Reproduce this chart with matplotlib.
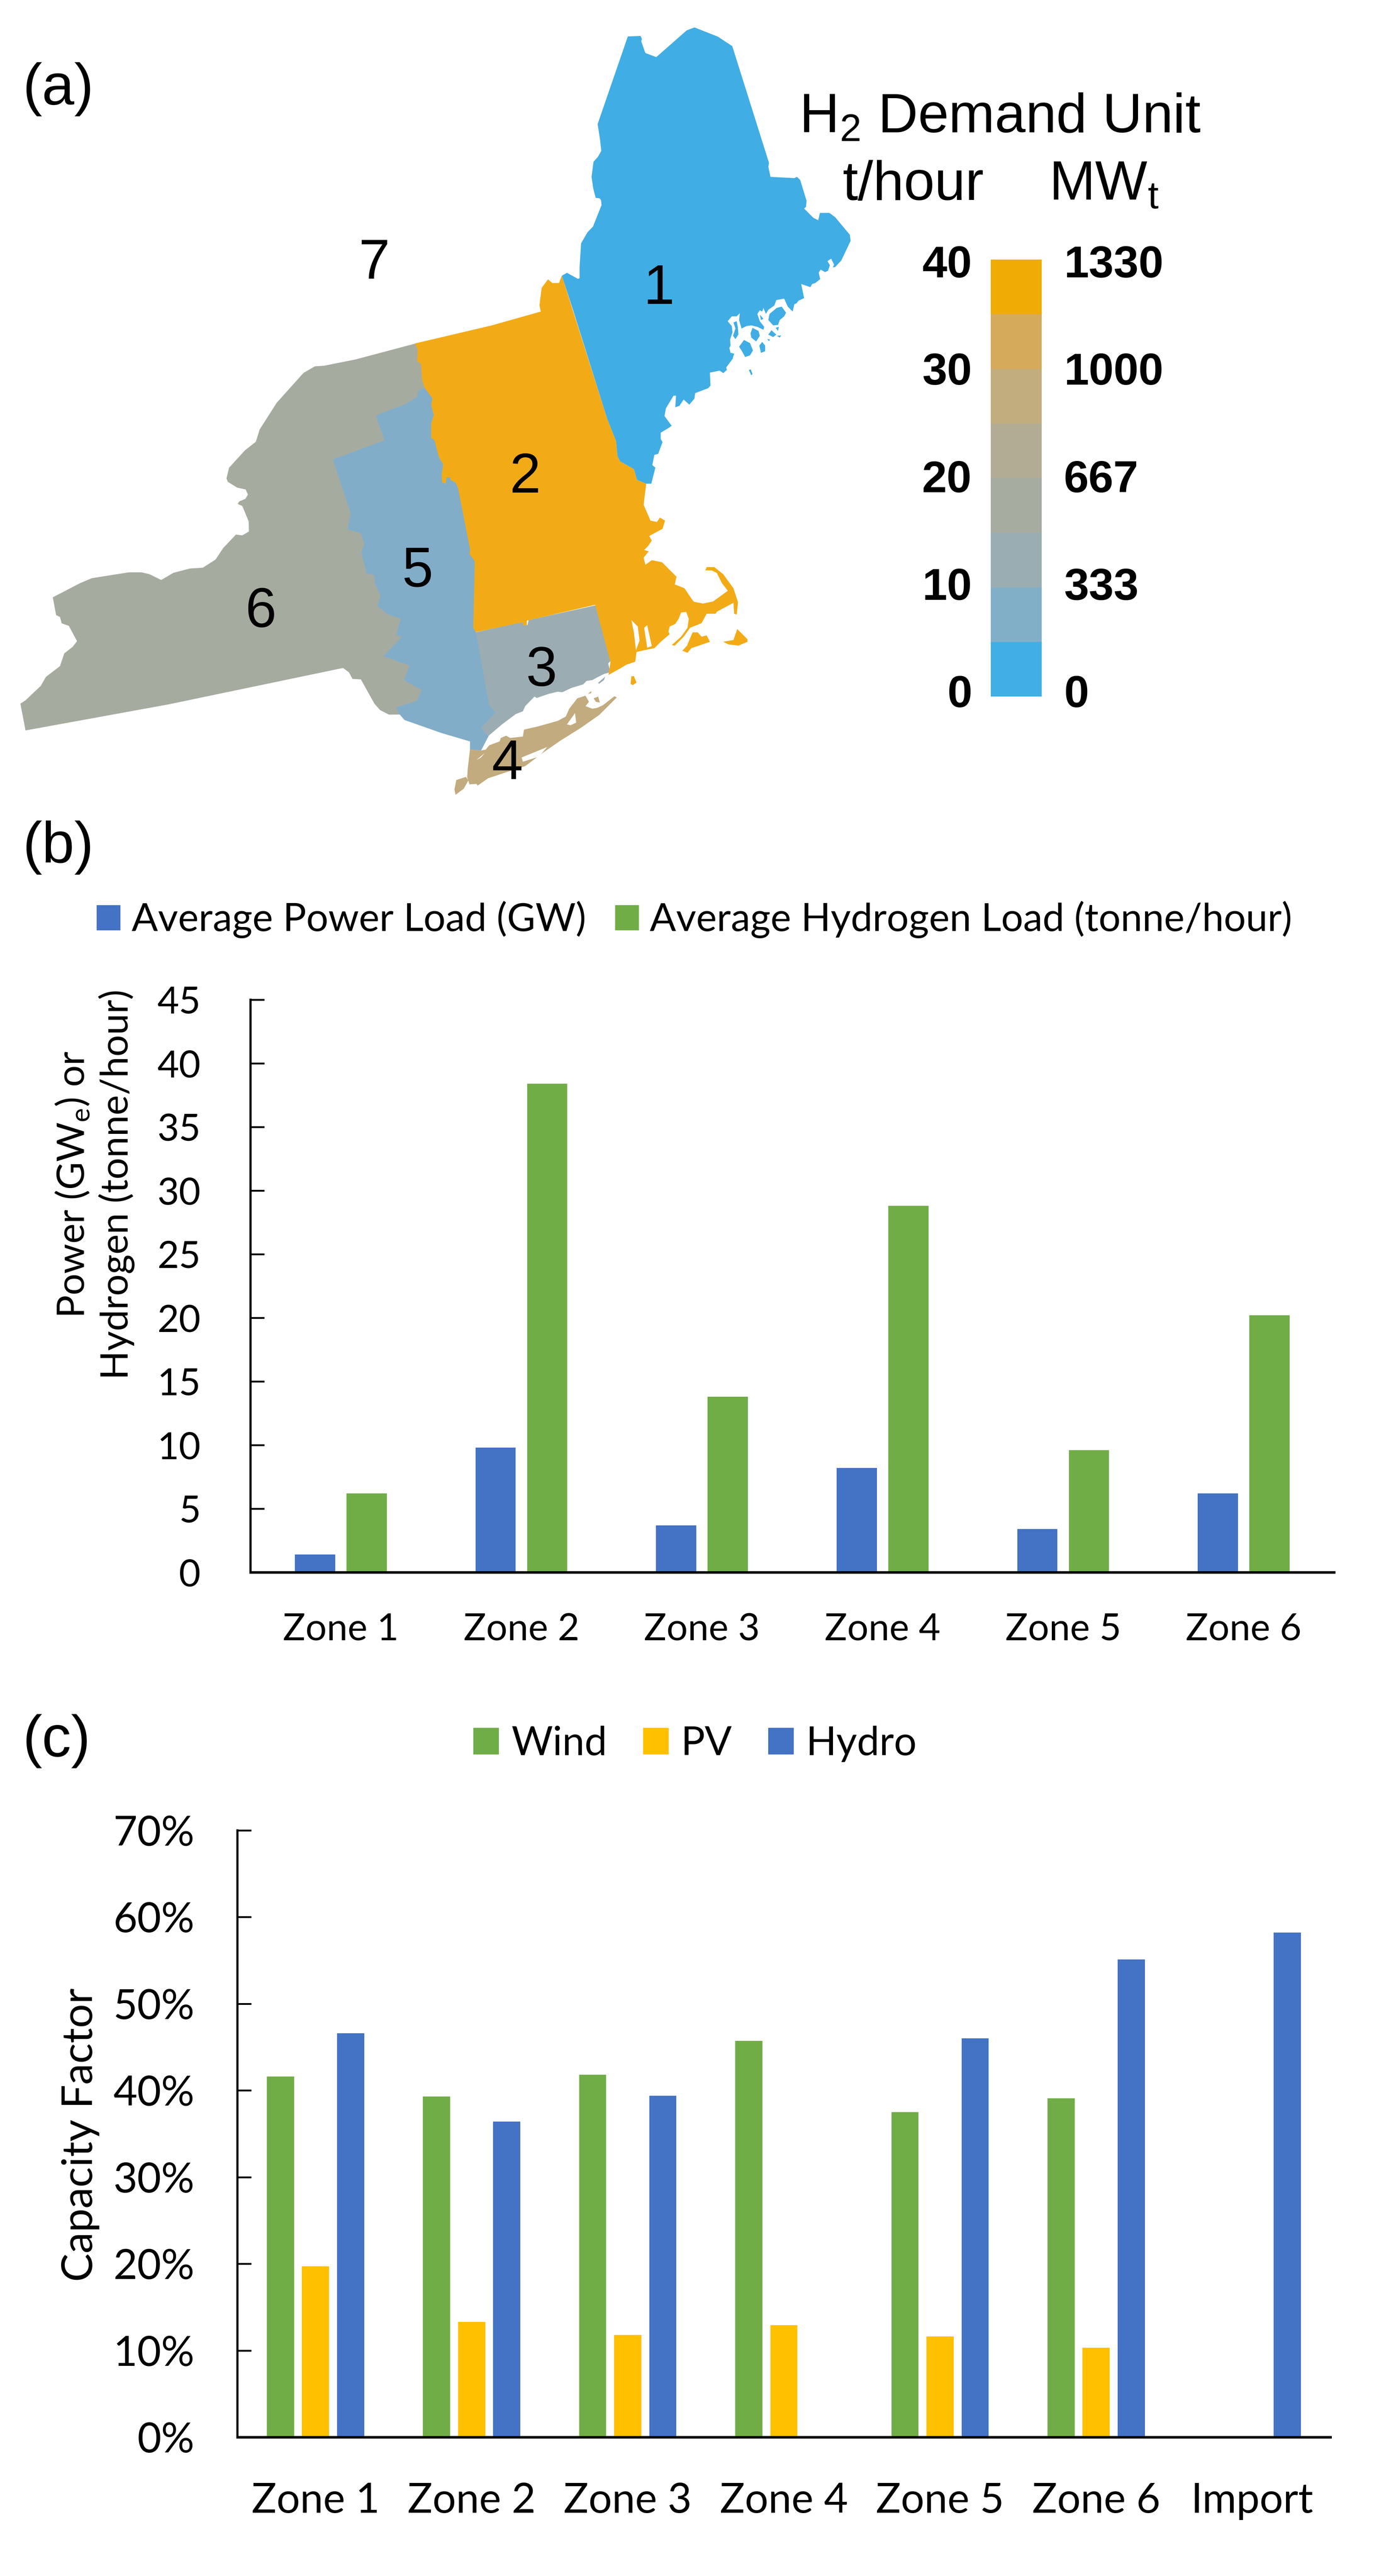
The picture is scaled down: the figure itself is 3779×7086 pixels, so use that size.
import numpy as np
import matplotlib
matplotlib.use('Agg')
import matplotlib.pyplot as plt
from matplotlib.patches import Patch

plt.rcParams['mathtext.default'] = 'regular'

W, H = 3780, 7086

# panel (b)
zones_b = ['Zone 1', 'Zone 2', 'Zone 3', 'Zone 4', 'Zone 5', 'Zone 6']
power_load = [1.4, 9.8, 3.7, 8.2, 3.4, 6.2]
hydrogen_load = [6.2, 38.4, 13.8, 28.8, 9.6, 20.2]

# panel (c)
zones_c = ['Zone 1', 'Zone 2', 'Zone 3', 'Zone 4', 'Zone 5', 'Zone 6', 'Import']
cf_wind = [41.6, 39.3, 41.8, 45.7, 37.5, 39.1, 0]
cf_pv = [19.7, 13.3, 11.8, 12.9, 11.6, 10.3, 0]
cf_hydro = [46.6, 36.4, 39.4, 0, 46.0, 55.1, 58.2]

# colour scale of the map
scale_tons = ['40', '30', '20', '10', '0']
scale_mw = ['1330', '1000', '667', '333', '0']
scale_colors = ['#41AFE6', '#82AFC8', '#9AADB3', '#A6ACA0',
                '#B3AC95', '#C2AD7E', '#D6AA5B', '#F0AB05']

ZONE_COLORS = {1: '#41ADE5', 2: '#F2AB17', 3: '#9BADB3', 4: '#C2AB7E',
               5: '#82ADC8', 6: '#A6ABA0'}


def z5(*p):
    return [(1400 + x * 0.6696, 50 + y * 0.6696) for x, y in p]

def z6(*p):
    return [(1000 + x * 0.7015, 850 + y * 0.7015) for x, y in p]

def z7(*p):
    return [(x * 0.7015, 950 + y * 0.7015) for x, y in p]

def z8(*p):
    return [(1100 + x * 0.6378, 1500 + y * 0.4783) for x, y in p]


zone1 = z5((217,1058),(238,1046),(283,1071),(290,1068),(290,1020),(296,925),(322,880),(345,856),
           (380,768),(378,748),(372,740),(356,738),(346,700),(339,652),(347,590),(365,570),(379,545),
           (374,500),(364,435),(488,75),(540,73),(546,85),(543,95),(560,143),(605,160),(730,50),
           (762,38),(858,76),(917,115),(1068,595),(1065,610),(1074,652),(1172,657),(1183,652),
           (1196,665),(1222,750),(1220,775),(1212,782),(1250,820),(1270,830),(1277,800),(1316,800),
           (1340,818),(1400,890),(1403,915),(1365,995),(1340,1022),(1330,1024),(1335,1012),(1323,988),
           (1308,998),(1318,1015),(1310,1038),(1298,1043),(1280,1033),(1272,1045),(1278,1072),
           (1258,1088),(1245,1092),(1238,1105),(1200,1092),(1212,1150),(1190,1160),(1180,1172),
           (1172,1175),(1165,1205),(1145,1185),(1130,1152),(1098,1158),(1090,1180),(1065,1198),
           (1055,1215),(1045,1190),(1040,1205),(1030,1200),(1020,1215),(1030,1245),(1048,1268),
           (1045,1280),(1020,1268),(995,1262),(975,1265),(955,1275),(945,1240),(948,1212),(935,1225),
           (915,1225),(898,1245),(915,1265),(918,1290),(908,1320),(910,1345),(905,1355),(910,1375),
           (925,1378),(918,1400),(892,1435),(895,1445),(880,1458),(865,1448),(825,1456)) + \
    z6((1360,300),(1352,310),(1300,330),(1297,352),(1277,375),(1255,355),(1238,380),(1222,385),
       (1225,340),(1215,340),(1185,390),(1180,420),(1208,458),(1198,465),(1165,485),(1165,510),
       (1172,522),(1155,568),(1140,572),(1132,612),(1144,622),(1128,685),(1108,685),(1072,670),
       (1060,628),(1005,597),(995,575),(990,518),(955,430),(820,0))

zone1_islands = [
    z5((1070,1215),(1100,1190),(1120,1185),(1138,1210),(1130,1225),(1112,1240),(1105,1260),(1085,1262),(1065,1240)),
    z5((922,1250),(935,1245),(940,1270),(942,1300),(930,1318),(920,1305),(930,1275)),
    z5((1000,1272),(1025,1285),(1030,1305),(1015,1328),(995,1312),(992,1295)),
    z5((945,1350),(965,1322),(990,1335),(1002,1365),(990,1385),(970,1392),(955,1365)),
    z5((1028,1345),(1040,1330),(1052,1345),(1052,1368),(1035,1375)),
    z5((1065,1300),(1078,1282),(1098,1300),(1085,1310)),
    z5((985,1445),(993,1443),(1000,1462),(995,1467)),
    z5((1095,1272),(1108,1268),(1105,1285)),
    z5((1100,1305),(1118,1303),(1112,1312)),
    z5((1060,1318),(1072,1320),(1068,1327)),
    z5((1030,1218),(1045,1235),(1035,1240)),
]

zone2 = z6((202,135),(500,65),(695,10)) + \
    z5((125,1180),(134,1108),(160,1073),(178,1088),(205,1088),(217,1058)) + \
    z6((955,430),(990,518),(995,575),(1005,597),(1060,628),(1072,670),(1108,685),(1098,768),
       (1125,830),(1150,835),(1162,818),(1182,830),(1172,862),(1120,890),(1130,908),(1115,930),
       (1100,945),(1118,950),(1098,975),(1105,1003),(1130,985),(1170,993),(1227,1050),(1220,1080),
       (1258,1095),(1285,1135),(1295,1148),(1330,1155),(1370,1147),(1428,1105),(1405,1075),
       (1385,1035),(1365,1025),(1340,1025),(1345,1012),(1375,1012),(1410,1040),(1450,1095),
       (1468,1150),(1463,1198),(1453,1195),(1450,1152),(1385,1187),(1380,1195),(1345,1195),
       (1325,1232),(1280,1250),(1255,1285),(1220,1320),(1208,1318),(1245,1285),(1270,1250),
       (1275,1215),(1265,1188),(1245,1190),(1235,1215),(1222,1235),(1200,1245),(1195,1265),
       (1200,1275),(1165,1305),(1140,1330),(1100,1338),(1070,1345),(1065,1383),(1030,1395),
       (1005,1410),(960,1435),
       (968,1385),(908,1160),(640,1222),(640,1240),(625,1240),(625,1228),(440,1267),(430,1250),
       (436,990),(415,960),(418,945),(370,700),(360,680),(340,670),(340,660),(325,660),(322,685),
       (308,680),(306,650),(312,610),(295,580),(278,515),(265,505),(265,450),(275,415),(265,375),
       (270,350),(240,310),(230,280),(225,215),(210,205),(212,160))

zone2_islands = [
    z6((1250,1340),(1268,1320),(1290,1268),(1310,1268),(1325,1285),(1345,1280),(1358,1305),(1285,1330),(1270,1348)),
    z6((1410,1305),(1450,1298),(1465,1255),(1505,1295),(1505,1305),(1470,1320),(1430,1315)),
    z6((1050,1440),(1060,1440),(1070,1465),(1055,1475),(1047,1470)),
]
bay_gaps = [
    z6((1050,1220),(1075,1245),(1082,1300),(1068,1338),(1060,1270)),
    z6((1100,1250),(1112,1240),(1130,1322),(1112,1328)),
]

zone3 = z8((328,500),(530,440),(535,460),(550,458),(555,430),(845,345),(908,665),(898,680),(907,730),
           (880,740),(850,760),(830,775),(805,780),(790,800),(740,820),(700,845),(680,842),(640,855),
           (590,878),(580,870),(540,925),(530,955),(500,970),(440,1030),(380,1098),(350,1050),
           (412,962),(385,920),(372,830))
zone3_islet = z8((855,790),(885,755),(880,775),(858,797))

zone4 = z8((302,1175),(350,1180),(370,1175),(385,1150),(430,1128),(435,1108),(458,1095),(475,1108),
           (530,1100),(535,1060),(600,1040),(680,1010),(715,985),(730,940),(765,880),(800,865),
           (815,900),(800,925),(830,940),(850,935),(875,920),(925,868),(935,875),(860,975),(780,1050),
           (690,1125),(620,1190),(540,1270),(470,1300),(380,1340),(335,1382),(330,1372),(300,1375),
           (290,1335),(292,1290))
zone4_islands = [
    z8((243,1350),(285,1332),(295,1352),(275,1400),(240,1435),(235,1405)),
    z8((835,880),(855,870),(862,905),(845,900)),
    z8((810,855),(825,838),(825,850)),
]
zone4_gaps = [
    z8((720,1030),(755,965),(760,1020),(735,1035)),
    z8((525,1220),(635,1160),(600,1215),(530,1245)),
    z8((330,1235),(365,1195),(350,1220)),
]

zone5 = z6((240,308),(215,320),(210,345),(160,375),(105,395),(48,418),(82,515)) + \
    z7((1305,447),(1375,660),(1363,722),(1415,737),(1428,778),(1417,812),(1437,895),(1467,900),
       (1470,935),(1492,980),(1480,1022),(1520,1055),(1565,1070)) + \
    z6((145,1215),(128,1278),(150,1285),(78,1362),(180,1398),(158,1455),(228,1495),(208,1538)) + \
    z8((72,895),(0,925)) + z7((1553,1418),(1565,1445)) + \
    z8((20,1005),(180,1080),(302,1128),(302,1175),(350,1180),(382,1098),(412,962),(328,500)) + \
    z6((450,700),(300,400))

zone6 = z7((1628,-7),(1395,55),(1270,80),(1235,82),(1190,108),(1085,225),(1018,330),(1003,378),(960,412),
           (898,480),(888,522),(893,535),(930,558),(963,565),(972,585),(962,602),(938,612),(932,622),
           (950,630),(975,690),(976,730),(950,745),(925,742),(875,795),(845,840),(795,872),(745,875),
           (680,892),(632,920),(585,897),(555,890),(505,890),(360,913),(315,932),(207,988),(220,1058),
           (235,1065),(242,1090),(270,1100),(302,1160),(285,1182),(252,1208),(235,1258),(180,1300),
           (160,1335),(100,1392),(80,1405),(100,1510),(660,1408),(1345,1265),(1368,1282),(1382,1308),
           (1415,1310),(1468,1405),(1490,1430),(1525,1448),(1640,1447),(1680,1350),(1660,1200),
           (1750,200),(1750,10))


def pt(px):
    return px * 72 / 100


def axes_at(x0, x1, y_top, y_bottom):
    return fig.add_axes([x0 / W, 1 - y_bottom / H, (x1 - x0) / W, (y_bottom - y_top) / H])


def style_chart(ax, tick_size, ypad, xpad):
    for s in ['top', 'right']:
        ax.spines[s].set_visible(False)
    ax.spines['left'].set_linewidth(pt(6))
    ax.spines['bottom'].set_linewidth(pt(7))
    ax.tick_params(axis='y', direction='in', length=pt(38), width=pt(5), pad=pt(ypad), labelsize=tick_size)
    ax.tick_params(axis='x', length=0, pad=pt(xpad), labelsize=tick_size)
    for lab in ax.get_xticklabels() + ax.get_yticklabels():
        lab.set_family('Lato')


fig = plt.figure(figsize=(W / 100, H / 100), dpi=100)

# map, drawn in picture pixels
m = fig.add_axes([0, 0, 1, 1])
m.set_xlim(0, W)
m.set_ylim(H, 0)
m.axis('off')

def fill(poly, color):
    xs, ys = zip(*poly)
    m.fill(xs, ys, color=color, lw=0)

fill(zone6, ZONE_COLORS[6])
fill(zone5, ZONE_COLORS[5])
fill(zone3, ZONE_COLORS[3])
fill(zone3_islet, ZONE_COLORS[3])
fill(zone2, ZONE_COLORS[2])
for p in zone2_islands:
    fill(p, ZONE_COLORS[2])
for p in bay_gaps:
    fill(p, 'white')
fill(zone1, ZONE_COLORS[1])
for p in zone1_islands:
    fill(p, ZONE_COLORS[1])
fill(zone4, ZONE_COLORS[4])
for p in zone4_islands:
    fill(p, ZONE_COLORS[4])
for p in zone4_gaps:
    fill(p, 'white')

arial = 'Liberation Sans'
zone_labels = [('1', 1812, 780), ('2', 1444, 1299), ('3', 1489, 1831), ('4', 1395, 2087),
               ('5', 1149, 1558), ('6', 717, 1669), ('7', 1029, 711)]
for s, x, y in zone_labels:
    m.text(x, y, s, family=arial, fontsize=pt(154), ha='center', va='center_baseline')

for s, y in [('(a)', 246), ('(b)', 2331), ('(c)', 4790)]:
    m.text(62, y, s, family=arial, fontsize=pt(160), ha='left', va='center')

m.text(2198, 365, 'H$_2$ Demand Unit', family=arial, fontsize=pt(152), ha='left', va='baseline')
m.text(2318, 550, 't/hour', family=arial, fontsize=pt(152), ha='left', va='baseline')
m.text(2885, 550, 'MW$_t$', family=arial, fontsize=pt(152), ha='left', va='baseline')

# colour scale
cax = axes_at(2725, 2865, 714, 1916)
cax.bar(0, [5] * len(scale_colors), bottom=np.arange(0, 40, 5), width=1, color=scale_colors)
cax.set_xlim(-0.5, 0.5)
cax.set_ylim(0, 40)
cax.axis('off')
for s, y in zip(scale_tons, np.linspace(718, 1901, 5)):
    m.text(2673, y, s, family=arial, weight='bold', fontsize=pt(123), ha='right', va='center_baseline')
for s, y in zip(scale_mw, np.linspace(718, 1901, 5)):
    m.text(2926, y, s, family=arial, weight='bold', fontsize=pt(123), ha='left', va='center_baseline')

# panel b
BLUE, GREEN, YELLOW = '#4472C4', '#70AD47', '#FFC000'
ax = axes_at(689, 3669, 2750, 4325)
x = np.arange(len(zones_b))
ax.bar(x - 0.143, power_load, 0.223, color=BLUE)
ax.bar(x + 0.143, hydrogen_load, 0.223, color=GREEN)
ax.set_xlim(-0.5, len(zones_b) - 0.5)
ax.set_ylim(0, 45)
ax.set_yticks(np.arange(0, 50, 5))
ax.set_xticks(x, zones_b)
style_chart(ax, pt(103), 137, 110)
ax.set_ylabel('Power (GW$_e$) or\nHydrogen (tonne/hour)', family='Lato', fontsize=pt(105),
              ha='center', va='center', linespacing=1.25)
ax.yaxis.set_label_coords((260 - 689) / 2980, (4325 - 3258) / 1575)
fig.legend(handles=[Patch(color=BLUE), Patch(color=GREEN)],
           labels=['Average Power Load (GW)', 'Average Hydrogen Load (tonne/hour)'],
           loc='center', bbox_to_anchor=(1910 / W, 1 - 2530 / H), ncol=2, frameon=False,
           prop={'family': 'Lato', 'size': pt(107)}, handlelength=0.6, handleheight=0.6,
           handletextpad=0.29, columnspacing=0.75, borderpad=0)

# panel c
ax = axes_at(653, 3659, 5035, 6704)
x = np.arange(len(zones_c))
ax.bar(x - 0.2246, cf_wind, 0.174, color=GREEN)
ax.bar(x, cf_pv, 0.174, color=YELLOW)
ax.bar(x + 0.2246, cf_hydro, 0.174, color=BLUE)
ax.set_xlim(-0.5, len(zones_c) - 0.5)
ax.set_ylim(0, 70)
ax.set_yticks(np.arange(0, 80, 10), [f'{v}%' for v in range(0, 80, 10)])
ax.set_xticks(x, zones_c)
style_chart(ax, pt(114), 118, 124)
ax.set_ylabel('Capacity Factor', family='Lato', fontsize=pt(117), ha='center', va='center')
ax.yaxis.set_label_coords((222 - 653) / 3006, (6704 - 5872) / 1669)
fig.legend(handles=[Patch(color=GREEN), Patch(color=YELLOW), Patch(color=BLUE)],
           labels=['Wind', 'PV', 'Hydro'],
           loc='center', bbox_to_anchor=(1912 / W, 1 - 4797 / H), ncol=3, frameon=False,
           prop={'family': 'Lato', 'size': pt(110)}, handlelength=0.63, handleheight=0.63,
           handletextpad=0.32, columnspacing=0.9, borderpad=0)

fig.savefig('out.png', dpi=100)
